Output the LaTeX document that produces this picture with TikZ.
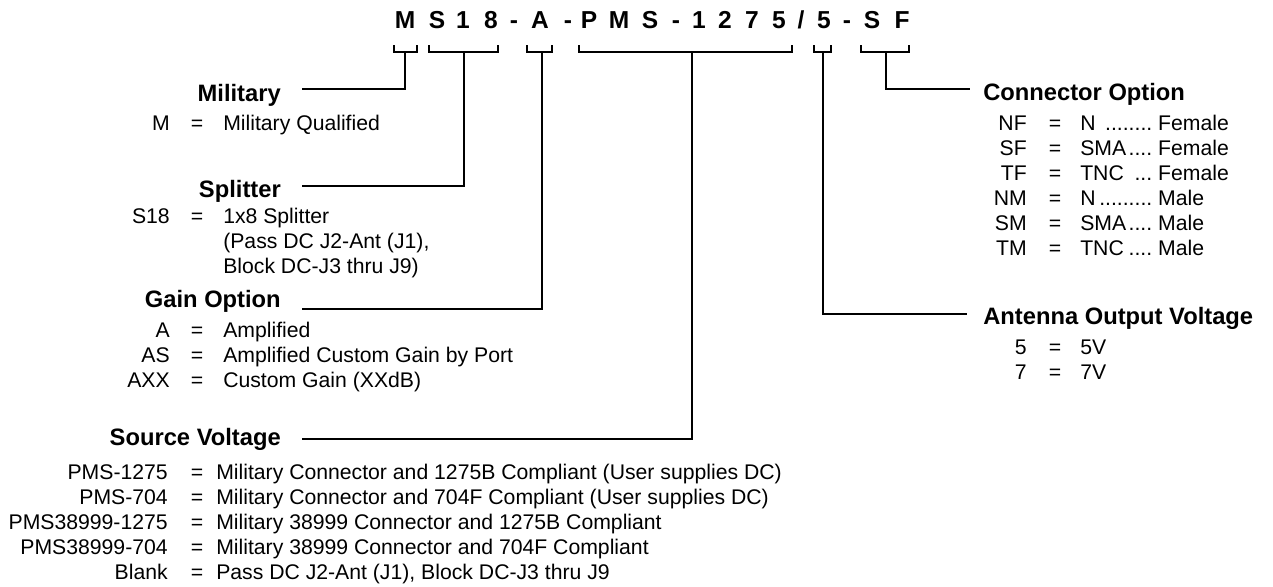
\documentclass[tikz,border=0pt]{standalone}
\usepackage{fontspec}
\setmainfont{Liberation Sans}
\usepackage{tikz}
\usetikzlibrary{calc}
\newcommand{\rowfont}{\fontsize{15.9}{19}\selectfont}
\newcommand{\headfont}{\fontsize{17.8}{21}\selectfont\bfseries}
\newcommand{\codefont}{\fontsize{18.4}{22}\selectfont\bfseries}
% name, dots, sex -- the dots end where the sex starts
\newcommand{\dotrow}[3]{\hbox to 54pt{#1\hfill#2}\hspace{4.4pt}#3}
\tikzset{
  conn/.style={draw=black, line width=0.9pt},
  codechar/.style={font=\codefont, inner sep=0pt, anchor=base},
  head/.style={font=\headfont, inner sep=0pt},
  key/.style={font=\rowfont, inner sep=0pt, anchor=base east},
  eq/.style={font=\rowfont, inner sep=0pt, anchor=base},
  desc/.style={font=\rowfont, inner sep=0pt, anchor=base west},
}
% name, left, right, stem
\newcommand{\brk}[4]{%
  \draw[conn] (#2,45) -- (#2,52) -- (#3,52) -- (#3,45);
  \coordinate (#1) at (#4,52);}

\begin{document}
\begin{tikzpicture}[x=0.75pt, y=-0.75pt]
  \useasboundingbox (0,0) rectangle (1273,586);
  % part number
  \foreach \ch/\xx [count=\i] in {M/405, S/437, 1/463, 8/491, -/514, A/540, -/568,
      P/589, M/619, S/650, -/676, 1/699, 2/725, 7/752, 5/779, {/}/801, 5/824, -/847, S/872, F/902}
    \node[codechar] (c\i) at (\xx,28) {\ch};
  \brk{bMil}{394}{417}{405}
  \brk{bSpl}{429}{498}{464}
  \brk{bGain}{527}{552}{542}
  \brk{bSrc}{579}{792}{692}
  \brk{bAnt}{814}{831}{823}
  \brk{bCon}{861}{909}{886}

  % left side headings
  \node[head, anchor=base east] (hMil) at (281,101) {Military};
  \node[head, anchor=base east] (hSpl) at (281,197) {Splitter};
  \node[head, anchor=base east] (hGain) at (281,307) {Gain Option};
  \node[head, anchor=base east] (hSrc) at (281,445) {Source Voltage};
  \coordinate (mil-in) at (302,89);
  \coordinate (spl-in) at (302,186);
  \coordinate (gain-in) at (302,309);
  \coordinate (src-in) at (302,439);
  \draw[conn] (bMil) |- (mil-in);
  \draw[conn] (bSpl) |- (spl-in);
  \draw[conn] (bGain) |- (gain-in);
  \draw[conn] (bSrc) |- (src-in);

  % right side headings
  \node[head, anchor=base west] (hCon) at (983,100) {Connector Option};
  \node[head, anchor=base west] (hAnt) at (983,324) {Antenna Output Voltage};
  \coordinate (con-in) at (970,89);
  \coordinate (ant-in) at (967,314);
  \draw[conn] (bCon) |- (con-in);
  \draw[conn] (bAnt) |- (ant-in);

  % military
  \node[key] (mk1) at (170,130) {M};
  \node[eq] (me1) at (197,130) {=};
  \node[desc] (md1) at (223,130) {Military Qualified};

  % splitter
  \node[key] (sk1) at (170,223) {S18};
  \node[eq] (se1) at (197,223) {=};
  \node[desc] (sd1) at (223,223) {1x8 Splitter};
  \node[desc] (sd2) at (223,248) {(Pass DC J2-Ant (J1),};
  \node[desc] (sd3) at (223,273) {Block DC-J3 thru J9)};

  % gain option
  \foreach \k/\d [count=\i] in {A/Amplified, AS/Amplified Custom Gain by Port, AXX/Custom Gain (XXdB)} {
    \node[key] (gk\i) at (170,{312+25*\i}) {\k};
    \node[eq] (ge\i) at (197,{312+25*\i}) {=};
    \node[desc] (gd\i) at (223,{312+25*\i}) {\d};
  }

  % source voltage
  \foreach \k/\d [count=\i] in {
      PMS-1275/Military Connector and 1275B Compliant (User supplies DC),
      PMS-704/Military Connector and 704F Compliant (User supplies DC),
      PMS38999-1275/Military 38999 Connector and 1275B Compliant,
      PMS38999-704/Military 38999 Connector and 704F Compliant,
      Blank/{Pass DC J2-Ant (J1), Block DC-J3 thru J9}} {
    \node[key] (vk\i) at (168,{454+25*\i}) {\k};
    \node[eq] (ve\i) at (197,{454+25*\i}) {=};
    \node[desc] (vd\i) at (216,{454+25*\i}) {\d};
  }

  % connector option
  \foreach \k/\n/\p/\s [count=\i] in {NF/N/{........}/Female, SF/SMA/{....}/Female, TF/TNC/{...}/Female,
      NM/N/{.........}/Male, SM/SMA/{....}/Male, TM/TNC/{....}/Male} {
    \node[key] (ck\i) at (1027,{105+25*\i}) {\k};
    \node[eq] (ce\i) at (1055,{105+25*\i}) {=};
    \node[desc] (cd\i) at (1080,{105+25*\i}) {\dotrow{\n}{\p}{\s}};
  }

  % antenna output voltage
  \foreach \k [count=\i] in {5, 7} {
    \node[key] (ak\i) at (1027,{329+25*\i}) {\k};
    \node[eq] (ae\i) at (1055,{329+25*\i}) {=};
    \node[desc] (ad\i) at (1080,{329+25*\i}) {\k V};
  }
\end{tikzpicture}
\end{document}
